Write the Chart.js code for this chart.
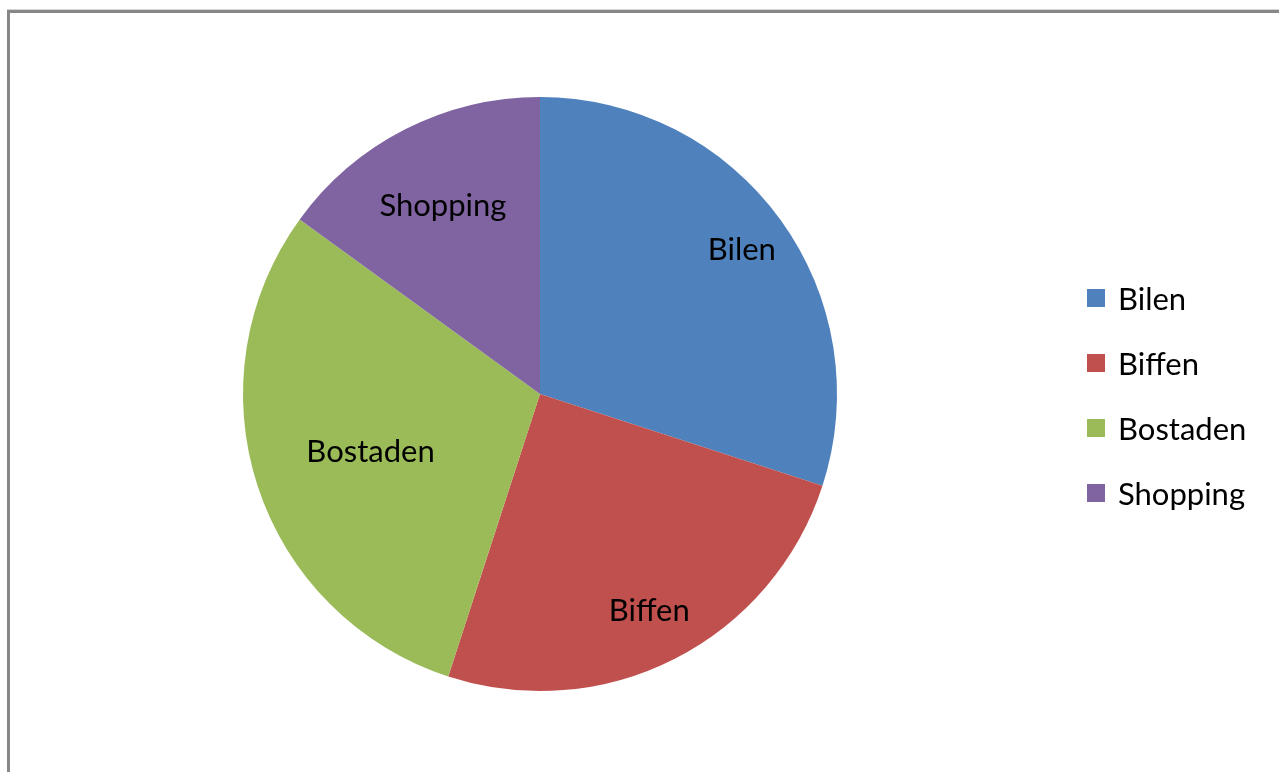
<!DOCTYPE html>
<html>
<head>
<meta charset="utf-8">
<script src="https://cdn.jsdelivr.net/npm/chart.js@4"></script>
<style>
  html, body { margin: 0; padding: 0; background: #fff; overflow: hidden; }
  #frame {
    position: absolute; left: 7px; top: 10px; width: 1400px; height: 900px;
    border-left: 3px solid #878787; border-top: 3px solid #878787;
    box-shadow: 0 -1px 0 #d4d4d4;
  }
  #wrap { position: absolute; left: 0; top: 0; width: 1279px; height: 772px; }
  #legend { position: absolute; left: 1087px; top: 265px; font-family: Lato, sans-serif; font-size: 31px; color: #000; }
  .legend-item { display: flex; align-items: center; height: 65px; }
  .legend-color { width: 18px; height: 18px; margin-right: 13px; }
</style>
</head>
<body>
<div id="frame"></div>
<div id="wrap"><canvas id="pie"></canvas></div>
<div id="legend"></div>
<script>
const labels = ['Bilen', 'Biffen', 'Bostaden', 'Shopping'];
const values = [30, 25, 30, 15];
const colors = ['#4F81BD', '#C0504D', '#9BBB59', '#8064A2'];

// how far out each slice label sits, as a share of the radius
const labelDepth = [0.84, 0.81, 0.6, 0.72];

const sliceLabels = {
    id: 'sliceLabels',
    afterDatasetsDraw(chart) {
        const ctx = chart.ctx;
        const meta = chart.getDatasetMeta(0);
        ctx.save();
        ctx.font = '31px Lato, sans-serif';
        ctx.fillStyle = '#000';
        ctx.textAlign = 'center';
        ctx.textBaseline = 'middle';
        meta.data.forEach((arc, i) => {
            const mid = (arc.startAngle + arc.endAngle) / 2;
            const r = arc.outerRadius * labelDepth[i];
            ctx.fillText(labels[i], arc.x + Math.cos(mid) * r, arc.y + Math.sin(mid) * r + 3);
        });
        ctx.restore();
    }
};

document.getElementById('legend').innerHTML = labels.map((l, i) => `
  <div class="legend-item">
    <span class="legend-color" style="background: ${colors[i]}"></span>
    <span>${l}</span>
  </div>`).join('');

new Chart(document.getElementById('pie'), {
    type: 'pie',
    data: {
        labels: labels,
        datasets: [{
            data: values,
            backgroundColor: colors,
            borderWidth: 0
        }]
    },
    options: {
        responsive: true,
        maintainAspectRatio: false,
        animation: false,
        layout: { padding: { top: 97, bottom: 81, left: 243, right: 442 } },
        plugins: {
            legend: { display: false },
            tooltip: { enabled: false }
        }
    },
    plugins: [sliceLabels]
});
</script>
</body>
</html>
